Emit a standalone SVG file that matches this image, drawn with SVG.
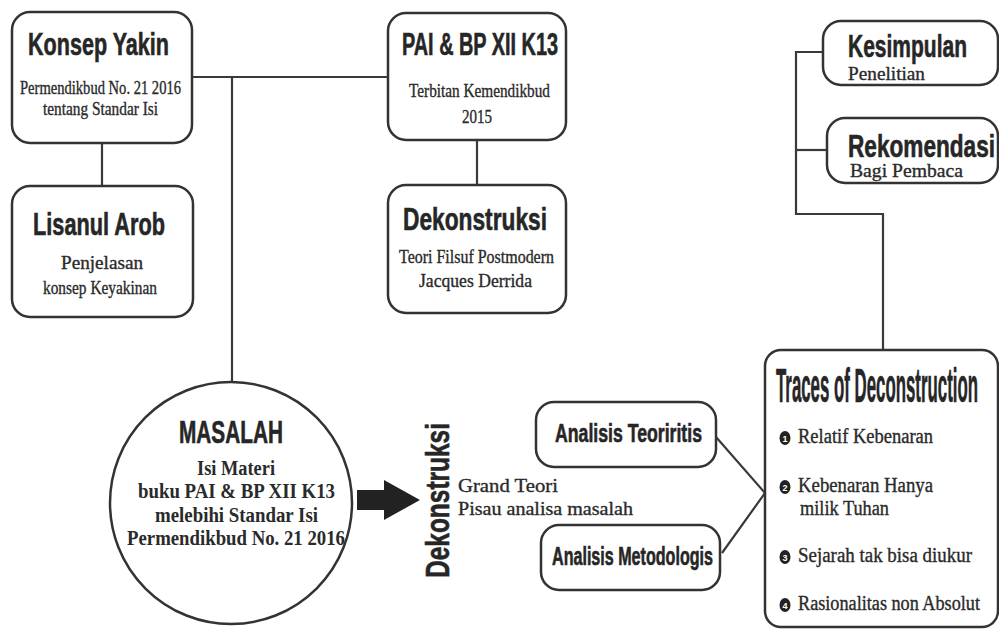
<svg xmlns="http://www.w3.org/2000/svg" width="999" height="629" viewBox="0 0 999 629">
<style>
.box{fill:#fff;stroke:#333;stroke-width:2.5}
.con{fill:none;stroke:#3a3a3a;stroke-width:2.2}
.t{font-family:"Liberation Sans Narrow","Liberation Sans",Arial,sans-serif;font-weight:bold;fill:#262626;stroke:#262626;stroke-width:0.6}
.s{font-family:"Liberation Serif","Times New Roman",serif;fill:#2a2a2a;stroke:#2a2a2a;stroke-width:0.35}
.sb{font-family:"Liberation Serif","Times New Roman",serif;font-weight:bold;fill:#2a2a2a}
.num{font-family:"Liberation Sans",Arial,sans-serif;font-weight:bold;font-size:9px;fill:#fff;text-anchor:middle}
</style>
<rect width="999" height="629" fill="#fff"/>
<g id="connectors">
<polyline class="con" points="192,77 388,77"/>
<polyline class="con" points="232,77 232,382"/>
<polyline class="con" points="102,143 102,186"/>
<polyline class="con" points="477,140 477,185"/>
<polyline class="con" points="823,52 796,52 796,214 883,214 883,350"/>
<polyline class="con" points="796,150 827,150"/>
<polyline class="con" points="716,437 765,493 722,553"/>
<polygon points="357,490 384,490 384,480 420,500 384,520 384,510 357,510" fill="#222"/>
</g>
<g id="konsep-yakin">
<rect class="box" x="12" y="12" width="180" height="131" rx="18"/>
<text class="t" x="28" y="55" font-size="32" textLength="141" lengthAdjust="spacingAndGlyphs">Konsep Yakin</text>
<text class="s" x="20" y="94" font-size="18.5" textLength="161" lengthAdjust="spacingAndGlyphs">Permendikbud No. 21 2016</text>
<text class="s" x="43" y="115" font-size="18.5" textLength="115" lengthAdjust="spacingAndGlyphs">tentang Standar Isi</text>
</g>
<g id="lisanul-arob">
<rect class="box" x="12" y="186" width="181" height="131" rx="18"/>
<text class="t" x="33" y="235" font-size="32" textLength="132" lengthAdjust="spacingAndGlyphs">Lisanul Arob</text>
<text class="s" x="61" y="269" font-size="18.5" textLength="82" lengthAdjust="spacingAndGlyphs">Penjelasan</text>
<text class="s" x="43" y="294" font-size="18.5" textLength="114" lengthAdjust="spacingAndGlyphs">konsep Keyakinan</text>
</g>
<g id="pai-bp">
<rect class="box" x="388" y="13" width="178" height="127" rx="18"/>
<text class="t" x="402" y="55" font-size="32" textLength="156" lengthAdjust="spacingAndGlyphs">PAI &amp; BP XII K13</text>
<text class="s" x="409" y="97" font-size="18.5" textLength="141" lengthAdjust="spacingAndGlyphs">Terbitan Kemendikbud</text>
<text class="s" x="462" y="123" font-size="18.5" textLength="30" lengthAdjust="spacingAndGlyphs">2015</text>
</g>
<g id="dekonstruksi-box">
<rect class="box" x="388" y="185" width="178" height="128" rx="18"/>
<text class="t" x="403" y="230" font-size="32" textLength="144" lengthAdjust="spacingAndGlyphs">Dekonstruksi</text>
<text class="s" x="399" y="263" font-size="18.5" textLength="155" lengthAdjust="spacingAndGlyphs">Teori Filsuf Postmodern</text>
<text class="s" x="419" y="287" font-size="18.5" textLength="113" lengthAdjust="spacingAndGlyphs">Jacques Derrida</text>
</g>
<g id="masalah">
<circle class="box" cx="231" cy="503" r="121"/>
<text class="t" x="179" y="443" font-size="32" textLength="104" lengthAdjust="spacingAndGlyphs">MASALAH</text>
<text class="sb" x="197" y="475" font-size="20" textLength="78" lengthAdjust="spacingAndGlyphs">Isi Materi</text>
<text class="sb" x="138" y="498" font-size="20" textLength="197" lengthAdjust="spacingAndGlyphs">buku PAI &amp; BP XII K13</text>
<text class="sb" x="155" y="522" font-size="20" textLength="163" lengthAdjust="spacingAndGlyphs">melebihi Standar Isi</text>
<text class="sb" x="127" y="545" font-size="20" textLength="218" lengthAdjust="spacingAndGlyphs">Permendikbud No. 21 2016</text>
</g>
<g id="dekonstruksi-label">
<text class="t" transform="translate(449,578) rotate(-90)" x="0" y="0" font-size="34" textLength="155" lengthAdjust="spacingAndGlyphs">Dekonstruksi</text>
<text class="s" x="458" y="492" font-size="19" textLength="100" lengthAdjust="spacingAndGlyphs">Grand Teori</text>
<text class="s" x="458" y="515" font-size="19" textLength="175" lengthAdjust="spacingAndGlyphs">Pisau analisa masalah</text>
</g>
<g id="analisis-teoritis">
<rect class="box" x="536" y="402" width="180" height="65" rx="18"/>
<text class="t" x="555" y="442" font-size="25" textLength="147" lengthAdjust="spacingAndGlyphs">Analisis Teoriritis</text>
</g>
<g id="analisis-metodologis">
<rect class="box" x="541" y="525" width="179" height="65" rx="18"/>
<text class="t" x="552" y="565" font-size="25" textLength="161" lengthAdjust="spacingAndGlyphs">Analisis Metodologis</text>
</g>
<g id="kesimpulan">
<rect class="box" x="823" y="21" width="175" height="64" rx="18"/>
<text class="t" x="848" y="57" font-size="31" textLength="119" lengthAdjust="spacingAndGlyphs">Kesimpulan</text>
<text class="s" x="848" y="80" font-size="19" textLength="77" lengthAdjust="spacingAndGlyphs">Penelitian</text>
</g>
<g id="rekomendasi">
<rect class="box" x="827" y="118" width="171" height="65" rx="18"/>
<text class="t" x="848" y="157" font-size="31" textLength="147" lengthAdjust="spacingAndGlyphs">Rekomendasi</text>
<text class="s" x="850" y="177" font-size="19" textLength="113" lengthAdjust="spacingAndGlyphs">Bagi Pembaca</text>
</g>
<g id="traces">
<rect class="box" x="765" y="350" width="233" height="277" rx="16"/>
<text class="t" x="776" y="402" font-size="48" textLength="202" lengthAdjust="spacingAndGlyphs">Traces of Deconstruction</text>
<ellipse cx="785" cy="438" rx="5.5" ry="7" fill="#222"/><text class="num" x="785" y="441.5">1</text>
<text class="s" x="798" y="443" font-size="20" textLength="135" lengthAdjust="spacingAndGlyphs">Relatif Kebenaran</text>
<ellipse cx="785" cy="487" rx="5.5" ry="7" fill="#222"/><text class="num" x="785" y="490.5">2</text>
<text class="s" x="798" y="492" font-size="20" textLength="135" lengthAdjust="spacingAndGlyphs">Kebenaran Hanya</text>
<text class="s" x="800" y="515" font-size="20" textLength="89" lengthAdjust="spacingAndGlyphs">milik Tuhan</text>
<ellipse cx="785" cy="557" rx="5.5" ry="7" fill="#222"/><text class="num" x="785" y="560.5">3</text>
<text class="s" x="798" y="562" font-size="20" textLength="174" lengthAdjust="spacingAndGlyphs">Sejarah tak bisa diukur</text>
<ellipse cx="785" cy="605" rx="5.5" ry="7" fill="#222"/><text class="num" x="785" y="608.5">4</text>
<text class="s" x="798" y="610" font-size="20" textLength="182" lengthAdjust="spacingAndGlyphs">Rasionalitas non Absolut</text>
</g>
</svg>
